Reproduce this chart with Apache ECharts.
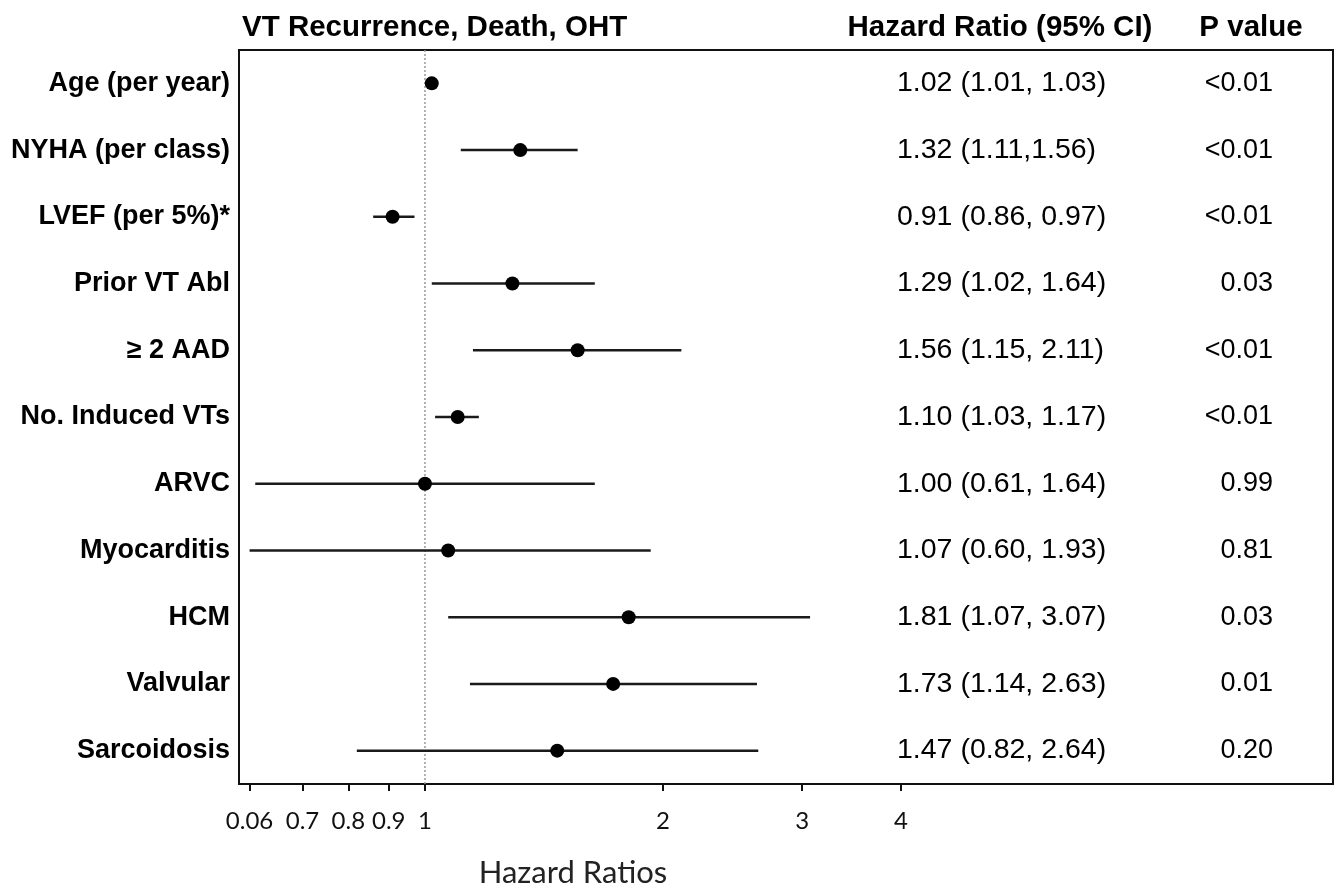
<!DOCTYPE html>
<html>
<head>
<meta charset="utf-8">
<script src="https://cdn.jsdelivr.net/npm/echarts@6/dist/echarts.min.js"></script>
<style>
  html, body { margin: 0; padding: 0; background: #fff; }
  #forestChart { width: 1339px; height: 890px; }
</style>
</head>
<body>
<div id="forestChart"></div>
<script>
// rows, top to bottom
const rowLabels = ['Age (per year)', 'NYHA (per class)', 'LVEF (per 5%)*', 'Prior VT Abl', '\u2265 2 AAD',
    'No. Induced VTs', 'ARVC', 'Myocarditis', 'HCM', 'Valvular', 'Sarcoidosis'];
const hazardRatios = [1.02, 1.32, 0.91, 1.29, 1.56, 1.10, 1.00, 1.07, 1.81, 1.73, 1.47];
const ciLower = [1.01, 1.11, 0.86, 1.02, 1.15, 1.03, 0.61, 0.60, 1.07, 1.14, 0.82];
const ciUpper = [1.03, 1.56, 0.97, 1.64, 2.11, 1.17, 1.64, 1.93, 3.07, 2.63, 2.64];
const hrTexts = ['1.02 (1.01, 1.03)', '1.32 (1.11,1.56)', '0.91 (0.86, 0.97)', '1.29 (1.02, 1.64)',
    '1.56 (1.15, 2.11)', '1.10 (1.03, 1.17)', '1.00 (0.61, 1.64)', '1.07 (0.60, 1.93)',
    '1.81 (1.07, 3.07)', '1.73 (1.14, 2.63)', '1.47 (0.82, 2.64)'];
const pValues = ['<0.01', '<0.01', '<0.01', '0.03', '<0.01', '<0.01', '0.99', '0.81', '0.03', '0.01', '0.20'];

// x axis ticks (the first one is labelled 0.06 in the original)
const tickValues = [0.6, 0.7, 0.8, 0.9, 1, 2, 3, 4];
const tickLabels = ['0.06', '0.7', '0.8', '0.9', '1', '2', '3', '4'];
const referenceHR = 1;

document.addEventListener('DOMContentLoaded', function () {
    const chartDom = document.getElementById('forestChart');
    const chart = echarts.init(chartDom);

    const gridLeft = 239;
    const hrColumnX = 897;
    const pColumnX = 1273;
    const sans = '"Liberation Sans", Arial, sans-serif';
    const humanist = 'Lato, "Open Sans", sans-serif';

    function tickLabel(v) {
        let best = 0;
        tickValues.forEach((t, i) => {
            if (Math.abs(t - v) < Math.abs(tickValues[best] - v)) best = i;
        });
        return tickLabels[best];
    }

    const option = {
        animation: false,
        backgroundColor: '#fff',
        grid: {
            left: gridLeft,
            right: 6,
            top: 50,
            bottom: 106,
            show: true,
            borderColor: '#111',
            borderWidth: 2,
            containLabel: false,
            outerBoundsMode: 'none'
        },
        xAxis: {
            type: 'log',
            logBase: 10,
            min: 0.5818,
            max: 14.08,
            axisLine: { show: true, lineStyle: { color: '#111', width: 2 } },
            axisTick: {
                show: true,
                inside: false,
                length: 7,
                customValues: tickValues,
                lineStyle: { color: '#111', width: 2 }
            },
            axisLabel: {
                customValues: tickValues,
                margin: 25,
                color: '#111',
                fontFamily: humanist,
                fontSize: 24,
                formatter: function (v) {
                    return tickLabel(v);
                }
            },
            splitLine: { show: false },
            minorTick: { show: false }
        },
        yAxis: [
            {
                type: 'category',
                inverse: true,
                data: rowLabels,
                axisLine: { show: false },
                axisTick: { show: false },
                axisLabel: {
                    margin: 9,
                    color: '#000',
                    fontFamily: sans,
                    fontWeight: 'bold',
                    fontSize: 27
                }
            },
            {
                type: 'category',
                inverse: true,
                position: 'left',
                offset: -(hrColumnX - gridLeft),
                data: hrTexts,
                axisLine: { show: false },
                axisTick: { show: false },
                axisLabel: {
                    margin: 0,
                    align: 'left',
                    color: '#000',
                    fontFamily: sans,
                    fontSize: 28.5
                }
            },
            {
                type: 'category',
                inverse: true,
                position: 'left',
                offset: -(pColumnX - gridLeft),
                data: pValues,
                axisLine: { show: false },
                axisTick: { show: false },
                axisLabel: {
                    margin: 0,
                    align: 'right',
                    color: '#000',
                    fontFamily: sans,
                    fontSize: 27
                }
            }
        ],
        series: [
            {
                // dotted line of no effect at HR = 1, full height of the frame
                name: 'Reference',
                type: 'custom',
                xAxisIndex: 0,
                yAxisIndex: 0,
                data: [[referenceHR, rowLabels[0]]],
                encode: { x: 0, y: 1 },
                silent: true,
                renderItem: function (params, api) {
                    const p = api.coord([api.value(0), 0]);
                    const cs = params.coordSys;
                    return {
                        type: 'line',
                        shape: { x1: p[0], y1: cs.y, x2: p[0], y2: cs.y + cs.height },
                        style: { stroke: '#999', lineWidth: 1.5, lineDash: [2, 2] }
                    };
                },
                z: 1
            },
            {
                name: '95% CI',
                type: 'custom',
                xAxisIndex: 0,
                yAxisIndex: 0,
                data: rowLabels.map((r, i) => [ciLower[i], ciUpper[i], r]),
                encode: { x: [0, 1], y: 2 },
                renderItem: function (params, api) {
                    const lo = api.coord([api.value(0), api.value(2)]);
                    const hi = api.coord([api.value(1), api.value(2)]);
                    return {
                        type: 'line',
                        shape: { x1: lo[0], y1: lo[1], x2: hi[0], y2: hi[1] },
                        style: { stroke: '#1a1a1a', lineWidth: 2.5 }
                    };
                },
                z: 2
            },
            {
                name: 'Hazard Ratio',
                type: 'scatter',
                xAxisIndex: 0,
                yAxisIndex: 0,
                data: hazardRatios.map((v, i) => [v, rowLabels[i]]),
                symbol: 'circle',
                symbolSize: 14,
                itemStyle: { color: '#000', opacity: 1 },
                z: 3
            }
        ],
        graphic: {
            elements: [
                {
                    type: 'text',
                    x: 242,
                    y: 28,
                    style: { text: 'VT Recurrence, Death, OHT', font: 'bold 29.5px ' + sans, fill: '#000', align: 'left', verticalAlign: 'middle' }
                },
                {
                    type: 'text',
                    x: 1000,
                    y: 28,
                    style: { text: 'Hazard Ratio (95% CI)', font: 'bold 29.5px ' + sans, fill: '#000', align: 'center', verticalAlign: 'middle' }
                },
                {
                    type: 'text',
                    x: 1251,
                    y: 28,
                    style: { text: 'P value', font: 'bold 29.5px ' + sans, fill: '#000', align: 'center', verticalAlign: 'middle' }
                },
                {
                    type: 'text',
                    x: 573,
                    y: 873,
                    style: { text: 'Hazard Ratios', font: '31px ' + humanist, fill: '#222', align: 'center', verticalAlign: 'middle' }
                }
            ]
        }
    };

    chart.setOption(option);
});
</script>
</body>
</html>
